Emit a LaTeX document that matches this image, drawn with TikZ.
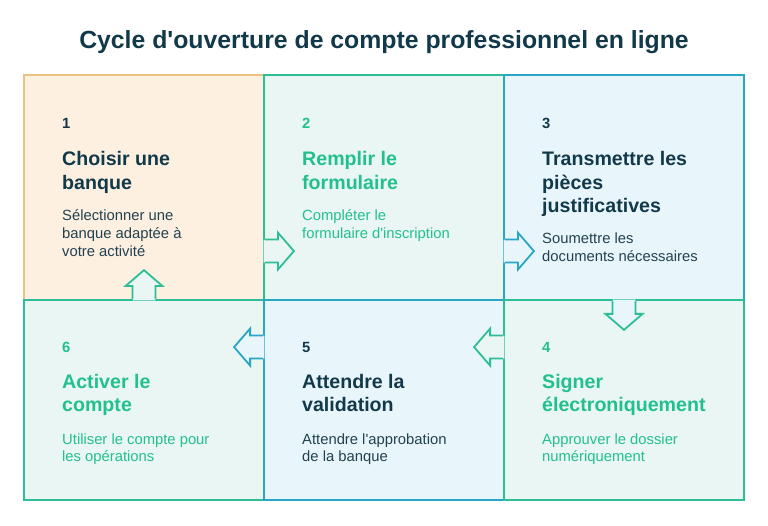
\documentclass[tikz,border=0pt]{standalone}
\usepackage{fontspec}
\setmainfont{Liberation Sans}
\usetikzlibrary{calc}
\definecolor{navy}{HTML}{12394A}
\definecolor{navytxt}{HTML}{22414F}
\definecolor{grn}{HTML}{2DBE98}
\definecolor{grntxt}{HTML}{22C08C}
\definecolor{blu}{HTML}{2AA5C6}
\definecolor{org}{HTML}{EAC283}
\definecolor{orgbg}{HTML}{FDF0E1}
\definecolor{tealbg}{HTML}{E9F6F3}
\definecolor{bluebg}{HTML}{E8F6FC}
\begin{document}
\begin{tikzpicture}[
    x=1pt,y=-1pt,
    box/.style={rectangle,inner sep=0pt,line width=1.8pt,minimum width=240pt},
    toprow/.style={box,minimum height=225pt},
    botrow/.style={box,minimum height=200pt},
    num/.style={anchor=base west,inner sep=0pt,font=\fontsize{14.8}{17.8}\selectfont\bfseries},
    ttl/.style={anchor=base west,inner sep=0pt,align=left,font=\fontsize{19.6}{23.5}\selectfont\bfseries},
    desc/.style={anchor=base west,inner sep=0pt,align=left,font=\fontsize{14.8}{17.8}\selectfont}
  ]
  \useasboundingbox[fill=white] (0,0) rectangle (768,526);
  \node[anchor=base,inner sep=0pt,text=navy,font=\fontsize{24.8}{29}\selectfont\bfseries] (title) at (384,49) {Cycle d\textquotesingle ouverture de compte professionnel en ligne};

  % boxes
  \node[toprow,draw=org,fill=orgbg] (b1) at (144,187.5) {};
  \node[toprow,draw=grn,fill=tealbg] (b2) at (384,187.5) {};
  \node[toprow,draw=blu,fill=bluebg] (b3) at (624,187.5) {};
  \node[botrow,draw=grn,fill=tealbg] (b6) at (144,400) {};
  \node[botrow,draw=blu,fill=bluebg] (b5) at (384,400) {};
  \node[botrow,draw=grn,fill=tealbg] (b4) at (624,400) {};

  % arrow roots
  \coordinate (a12) at ($(b1.north east)+(0,177)$);
  \coordinate (a23) at ($(b2.north east)+(0,177)$);
  \coordinate (a34) at ($(b3.south)$);
  \coordinate (a45) at ($(b4.north west)+(0,48)$);
  \coordinate (a56) at ($(b5.north west)+(0,48)$);
  \coordinate (a61) at ($(b6.north)$);
  \foreach \pos/\ang/\col/\fil in {a12/0/grn/tealbg,a23/0/blu/bluebg,a34/-90/grn/bluebg,a45/180/grn/tealbg,a56/180/blu/bluebg,a61/90/grn/tealbg}{
    \begin{scope}[shift={(\pos)},rotate=\ang]
      \fill[\fil] (-1.2,-11.5) -- (13,-11.5) -- (13,-18.5) -- (29,0) -- (13,18.5) -- (13,11.5) -- (-1.2,11.5) -- cycle;
      \draw[\col,line width=1.8pt] (0,-11.5) -- (13,-11.5) -- (13,-18.5) -- (29,0) -- (13,18.5) -- (13,11.5) -- (0,11.5);
    \end{scope}
  }

  % texts, top row (multi-line nodes sit on their last baseline)
  \node[num,text=navy] (n1) at (62,129) {1};
  \node[ttl,text=navy] (t1) at (62,189.5) {Choisir une\\banque};
  \node[desc,text=navytxt] (d1) at (62,256.1) {Sélectionner une\\banque adaptée à\\votre activité};
  \node[num,text=grntxt] (n2) at (302,129) {2};
  \node[ttl,text=grntxt] (t2) at (302,189.5) {Remplir le\\formulaire};
  \node[desc,text=grntxt] (d2) at (302,238.3) {Compléter le\\formulaire d\textquotesingle inscription};
  \node[num,text=navy] (n3) at (542,129) {3};
  \node[ttl,text=navy] (t3) at (542,213) {Transmettre les\\pièces\\justificatives};
  \node[desc,text=navytxt] (d3) at (542,261.8) {Soumettre les\\documents nécessaires};

  % texts, bottom row
  \node[num,text=grntxt] (n4) at (542,352.5) {4};
  \node[ttl,text=grntxt] (t4) at (542,411.8) {Signer\\électroniquement};
  \node[desc,text=grntxt] (d4) at (542,461.8) {Approuver le dossier\\numériquement};
  \node[num,text=navy] (n5) at (302,352.5) {5};
  \node[ttl,text=navy] (t5) at (302,411.8) {Attendre la\\validation};
  \node[desc,text=navytxt] (d5) at (302,461.8) {Attendre l\textquotesingle approbation\\de la banque};
  \node[num,text=grntxt] (n6) at (62,352.5) {6};
  \node[ttl,text=grntxt] (t6) at (62,411.8) {Activer le\\compte};
  \node[desc,text=grntxt] (d6) at (62,461.8) {Utiliser le compte pour\\les opérations};
\end{tikzpicture}
\end{document}
